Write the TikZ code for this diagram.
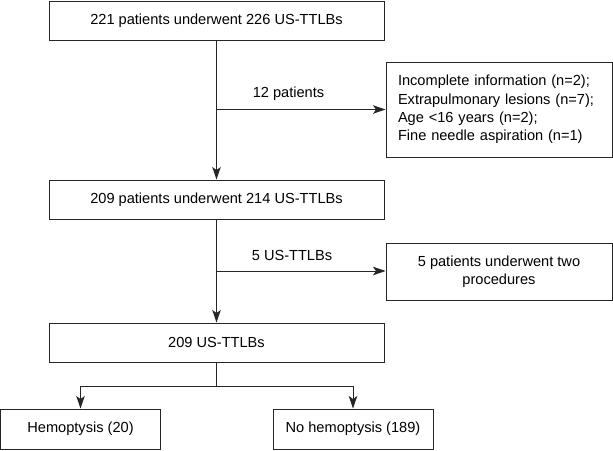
\documentclass[tikz,border=0pt]{standalone}
\usepackage{fontspec}
\setmainfont{Liberation Sans}
\usetikzlibrary{arrows.meta}
\begin{document}
\begin{tikzpicture}[x=1pt,y=-1pt,
  font=\fontsize{14.6}{18.3}\selectfont,
  boxnode/.style={draw=black!85, line width=1pt, inner sep=0pt, align=center},
  lab/.style={inner sep=0pt},
  arr/.style={line width=1pt, draw=black!85, -{Stealth[length=12.5pt,width=8.5pt,inset=3pt]}},
  ln/.style={line width=1pt, draw=black!85}]
\useasboundingbox (0,0) rectangle (613,450);
\node[boxnode, minimum width=335pt, minimum height=39pt] (b1) at (216.5,20.5) {221 patients underwent 226 US-TTLBs};
\node[boxnode, minimum width=335pt, minimum height=39pt] (b2) at (216.5,199.5) {209 patients underwent 214 US-TTLBs};
\node[boxnode, minimum width=335pt, minimum height=39pt] (b3) at (216.5,342.5) {209 US-TTLBs};
\node[boxnode, text width=202pt, inner xsep=12pt, minimum height=95pt, align=left] (r1) at (499,109.5) {Incomplete information (n=2);\\Extrapulmonary lesions (n=7);\\Age <16 years (n=2);\\Fine needle aspiration (n=1)};
\node[boxnode, minimum width=226pt, minimum height=57pt] (r2) at (499,271.5) {5 patients underwent two\\procedures};
\node[boxnode, minimum width=160pt, minimum height=40pt] (h1) at (80.5,429) {Hemoptysis (20)};
\node[boxnode, minimum width=160pt, minimum height=40pt] (h2) at (353,429) {No hemoptysis (189)};
\coordinate (j1) at (216.5,109.5);
\coordinate (j2) at (216.5,271);
\coordinate (j3) at (216.5,386);
\coordinate (jl) at (80.5,386);
\coordinate (jr) at (353,386);
\draw[arr] (b1.south) -- (b2.north);
\draw[arr] (j1) -- (j1 -| r1.west);
\node[lab] (l1) at (288.5,94) {12 patients};
\draw[arr] (b2.south) -- (b3.north);
\draw[arr] (j2) -- (j2 -| r2.west);
\node[lab] (l2) at (292,255) {5 US-TTLBs};
\draw[ln] (b3.south) -- (j3);
\draw[ln] (jl) -- (jr);
\draw[arr] (jl) -- (h1.north);
\draw[arr] (jr) -- (h2.north);
\end{tikzpicture}
\end{document}
